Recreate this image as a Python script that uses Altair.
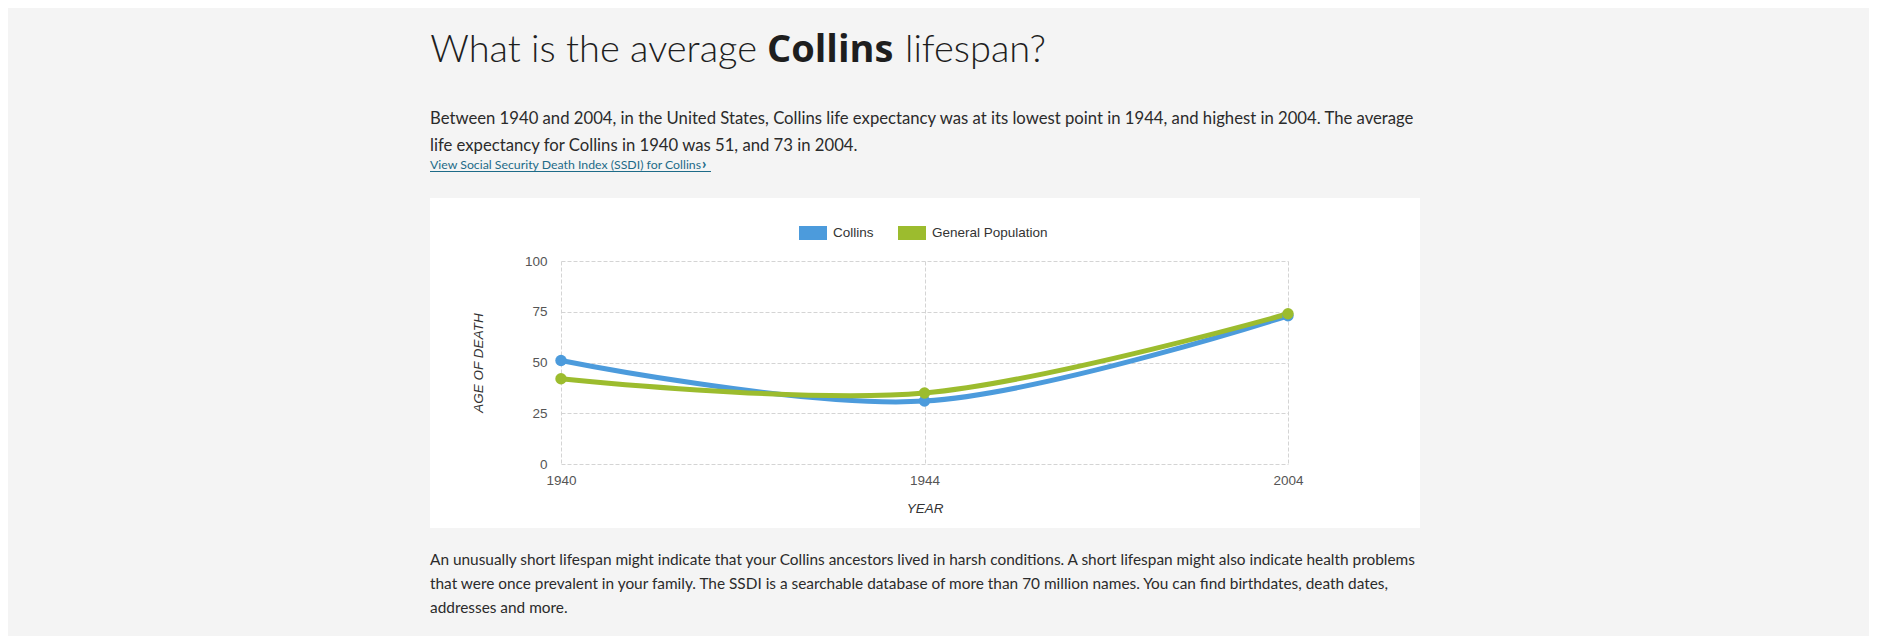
import altair as alt
import pandas as pd

# ---- data ----
years = ["1940", "1944", "2004"]
collins = [51, 31, 73]
general = [42, 35, 74]
series_names = ["Collins", "General Population"]
y_ticks = [0, 25, 50, 75, 100]

title_parts = ["What is the average", "Collins", "lifespan?"]
para1 = [
    "Between 1940 and 2004, in the United States, Collins life expectancy was at its lowest point in 1944, and highest in 2004. The average",
    "life expectancy for Collins in 1940 was 51, and 73 in 2004.",
]
link_text = "View Social Security Death Index (SSDI) for Collins"
para2 = [
    "An unusually short lifespan might indicate that your Collins ancestors lived in harsh conditions. A short lifespan might also indicate health problems",
    "that were once prevalent in your family. The SSDI is a searchable database of more than 70 million names. You can find birthdates, death dates,",
    "addresses and more.",
]

rows = []
for name, vals in zip(series_names, [collins, general]):
    for yr, v in zip(years, vals):
        rows.append({"year": yr, "age": v, "series": name})
df = pd.DataFrame(rows)

BLUE = "#4c9bdc"
GREEN = "#9cbc2e"
PAGE = "#f4f4f4"
LINK = "#1d6b88"
AXFONT = "Liberation Sans"
PFONT = "Lato"

one = alt.Data(values=[{}])

x_enc = alt.X(
    "year:O",
    sort=years,
    scale=alt.Scale(type="point", padding=0),
    axis=alt.Axis(
        title="YEAR", labelAngle=0, titleY=44, titleBaseline="middle",
        labelPadding=9,
    ),
)
y_enc = alt.Y(
    "age:Q",
    scale=alt.Scale(domain=[0, 100]),
    axis=alt.Axis(
        values=y_ticks, title="AGE OF DEATH", titleX=-83, titleY=101.5,
        titleBaseline="middle", labelPadding=14,
    ),
)

# lines: own stroke scale (data-derived domain, sorted) without legend
lines = alt.Chart(df).mark_line(interpolate="cardinal", strokeWidth=5).encode(
    x=x_enc, y=y_enc,
    stroke=alt.Stroke("series:N", scale=alt.Scale(range=[BLUE, GREEN]), legend=None),
)
points = alt.Chart(df).mark_point(filled=True, size=130, opacity=1).encode(
    x=x_enc, y=y_enc,
    color=alt.Color(
        "series:N", scale=alt.Scale(domain=series_names, range=[BLUE, GREEN]),
        legend=alt.Legend(
            title=None, orient="none", legendX=238, legendY=-42,
            direction="horizontal", columns=2,
            symbolType="M-1,-0.5H1V0.5H-1Z", symbolSize=784,
            symbolStrokeWidth=0, labelOffset=6, columnPadding=24,
            labelFont=AXFONT, labelFontSize=13.5, labelColor="#333333",
            padding=0, offset=0,
        ),
    ),
)

def rect(x1, x2, y1, y2):
    return alt.Chart(one).mark_rect(color=PAGE).encode(
        x=alt.value(x1), x2=alt.value(x2), y=alt.value(y1), y2=alt.value(y2)
    )

frames = [
    rect(-570, 1330, -280, -63),
    rect(-570, 1330, 267, 400),
    rect(-570, -131, -63, 267),
    rect(859, 1330, -63, 267),
]

def text(t, x, y, size, weight=400, color="#2b2b2b", font=PFONT, align="left"):
    return alt.Chart(one).mark_text(
        align=align, baseline="alphabetic", font=font, fontSize=size,
        fontWeight=weight, color=color,
    ).encode(x=alt.value(x), y=alt.value(y), text=alt.value(t))

texts = [
    text(title_parts[0], 196, -198.7, 38, 300, "#1e1e1e", align="right"),
    text(title_parts[1], 206, -198.7, 38, 700, "#1e1e1e", font="Open Sans"),
    text(title_parts[2], 344, -198.7, 38, 300, "#1e1e1e"),
    text(para1[0], -131, -137, 16.7, 400),
    text(para1[1], -131, -110.5, 16.7, 400),
    text(link_text, -131, -92, 12.3, 400, LINK),
    text("\u203a", 141, -92, 15, 900, LINK),
    text(para2[0], -131, 304, 15.4, 400),
    text(para2[1], -131, 328, 15.4, 400),
    text(para2[2], -131, 352, 15.4, 400),
]
underline = alt.Chart(one).mark_rule(color=LINK, strokeWidth=1).encode(
    x=alt.value(-131), x2=alt.value(150), y=alt.value(-89.5)
)

chart = alt.layer(*frames, *texts, underline, lines, points).properties(
    width=727, height=203,
    autosize=alt.AutoSizeParams(type="none"),
    padding={"left": 553, "top": 253, "right": 581, "bottom": 172},
    background="white",
).configure_view(stroke=None).configure_axis(
    domain=False, ticks=False, tickSize=0,
    grid=True, gridColor="#d4d4d4", gridDash=[4, 2], gridWidth=1,
    labelFont=AXFONT, labelFontSize=13.5, labelColor="#555555",
    titleFont=AXFONT, titleFontSize=13.5, titleFontStyle="italic",
    titleFontWeight="normal", titleColor="#333333",
)

chart.save("out.html", embed_options={"renderer": "svg", "actions": False})
